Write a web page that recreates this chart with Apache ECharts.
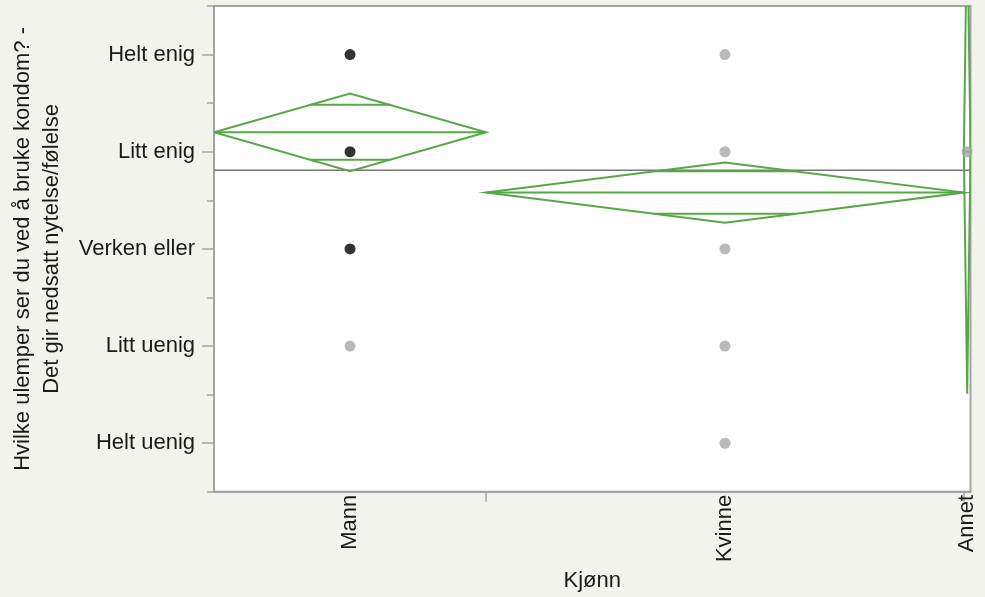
<!DOCTYPE html>
<html>
<head>
<meta charset="utf-8">
<script src="https://cdn.jsdelivr.net/npm/echarts@6/dist/echarts.min.js"></script>
<style>
html,body{margin:0;padding:0;background:#f3f3ee;}
#chart{width:985px;height:597px;}
</style>
</head>
<body>
<div id="chart"></div>
<script>
// ---- data ----
const categories = ['Mann', 'Kvinne', 'Annet'];
const counts = [41, 72, 1];
const means = [4.20, 3.58, 4.00];
const ciHalf = [0.40, 0.31, 2.49];
const grandMean = 3.81;
const responseLabels = ['Helt uenig', 'Litt uenig', 'Verken eller', 'Litt enig', 'Helt enig'];
const responseValues = [1, 2, 3, 4, 5];
const selectedResponses = [[5, 4, 3], [], []];
const otherResponses = [[2], [5, 4, 3, 2, 1], [4]];
const xTitle = 'Kjønn';
const yTitle = 'Hvilke ulemper ser du ved å bruke kondom? -\nDet gir nedsatt nytelse/følelse';

// ---- derived ----
const total = counts.reduce((a, b) => a + b, 0);
const starts = [];
let acc = 0;
counts.forEach(c => { starts.push(acc); acc += c; });
const ends = starts.map((s, i) => s + counts[i]);
const centers = starts.map((s, i) => s + counts[i] / 2);
const boundaries = ends.slice(0, -1);

const diamondData = categories.map((c, i) => [starts[i], ends[i], means[i], ciHalf[i]]);
const selectedPts = [];
const otherPts = [];
selectedResponses.forEach((arr, i) => arr.forEach(v => selectedPts.push([centers[i], v])));
otherResponses.forEach((arr, i) => arr.forEach(v => otherPts.push([centers[i], v])));

const GREEN = '#55a845';
const FONT = 'Liberation Sans, Arial, Helvetica, sans-serif';

const chart = echarts.init(document.getElementById('chart'));
chart.setOption({
  animation: false,
  backgroundColor: '#f3f3ee',
  textStyle: { fontFamily: FONT },
  grid: {
    left: 211, right: 14.5, top: 6, bottom: 103.5,
    show: true, backgroundColor: '#ffffff', borderColor: '#a4a4a4', borderWidth: 2
  },
  xAxis: {
    type: 'value', min: 0, max: total,
    axisLine: { show: true, lineStyle: { color: '#a4a4a4', width: 2 } },
    axisTick: { show: true, customValues: boundaries, length: 10, lineStyle: { color: '#a4a4a4', width: 1.5 } },
    axisLabel: {
      show: true, customValues: centers, rotate: 90, margin: 3,
      fontSize: 22, color: '#1a1a1a', fontFamily: FONT,
      formatter: v => { const i = centers.findIndex(c => Math.abs(c - v) < 1e-6); return i >= 0 ? categories[i] : ''; }
    },
    splitLine: { show: false },
    name: xTitle, nameLocation: 'middle', nameGap: 74,
    nameTextStyle: { fontSize: 22, color: '#1a1a1a', fontFamily: FONT }
  },
  yAxis: [{
    type: 'value', min: 0.5, max: 5.5,
    axisLine: { show: true, lineStyle: { color: '#a4a4a4', width: 2 } },
    axisTick: { show: true, customValues: responseValues, length: 12, lineStyle: { color: '#a4a4a4', width: 1.5 } },
    axisLabel: {
      show: true, customValues: responseValues, margin: 19,
      fontSize: 22, color: '#1a1a1a', fontFamily: FONT,
      formatter: v => responseLabels[Math.round(v) - 1] || ''
    },
    splitLine: { show: false },
    name: yTitle, nameLocation: 'middle', nameGap: 148, nameRotate: 90,
    nameTextStyle: { fontSize: 22, color: '#1a1a1a', fontFamily: FONT, lineHeight: 29, align: 'center' }
  }, {
    type: 'value', min: 0.5, max: 5.5, interval: 0.5, position: 'left',
    axisLine: { show: false },
    axisTick: { show: true, length: 7, lineStyle: { color: '#a4a4a4', width: 1.5 } },
    axisLabel: { show: false },
    splitLine: { show: false }
  }],
  series: [{
    type: 'line',
    data: [[0, grandMean], [total, grandMean]],
    symbol: 'none',
    lineStyle: { color: '#767676', width: 1.5 },
    silent: true, z: 1
  }, {
    type: 'custom',
    clip: true,
    data: diamondData,
    z: 2,
    renderItem: (params, api) => {
      const x0 = api.value(0), x1 = api.value(1), m = api.value(2), h = api.value(3);
      const xc = (x0 + x1) / 2;
      const d = h / Math.SQRT2;
      const f = (1 - d / h) * (x1 - x0) / 2;
      const L = api.coord([x0, m]), R = api.coord([x1, m]);
      const T = api.coord([xc, m + h]), B = api.coord([xc, m - h]);
      const o1a = api.coord([xc - f, m + d]), o1b = api.coord([xc + f, m + d]);
      const o2a = api.coord([xc - f, m - d]), o2b = api.coord([xc + f, m - d]);
      const st = { stroke: GREEN, lineWidth: 2, fill: null };
      return {
        type: 'group',
        children: [
          { type: 'polygon', shape: { points: [L, T, R, B] }, style: st },
          { type: 'line', shape: { x1: L[0], y1: L[1], x2: R[0], y2: R[1] }, style: st },
          { type: 'line', shape: { x1: o1a[0], y1: o1a[1], x2: o1b[0], y2: o1b[1] }, style: st },
          { type: 'line', shape: { x1: o2a[0], y1: o2a[1], x2: o2b[0], y2: o2b[1] }, style: st }
        ]
      };
    }
  }, {
    type: 'scatter',
    data: otherPts,
    symbolSize: 11,
    itemStyle: { color: '#a8a8a8' },
    z: 3
  }, {
    type: 'scatter',
    data: selectedPts,
    symbolSize: 11,
    itemStyle: { color: '#000000' },
    z: 4
  }]
});
</script>
</body>
</html>
